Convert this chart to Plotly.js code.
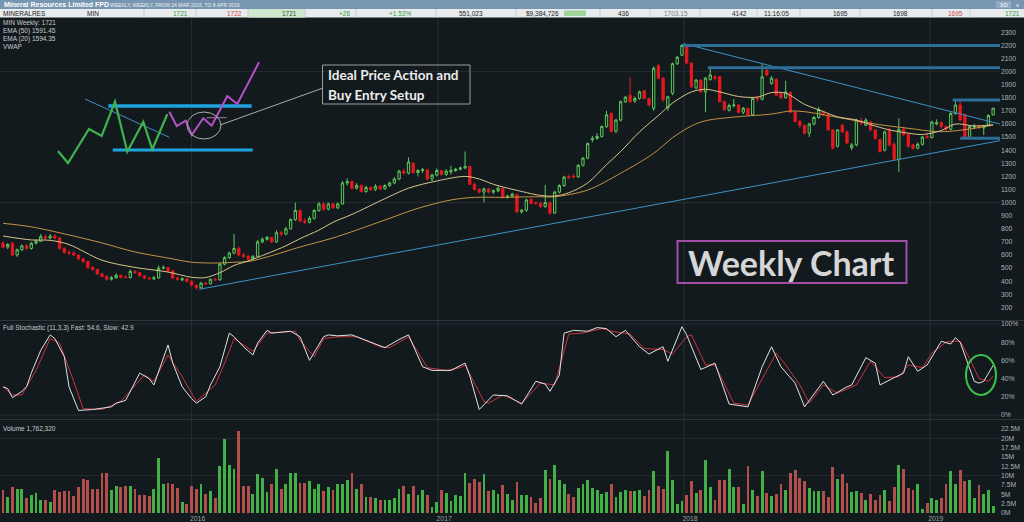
<!DOCTYPE html>
<html>
<head>
<meta charset="utf-8">
<script src="https://cdn.plot.ly/plotly-3.0.1.min.js"></script>
<style>
html,body{margin:0;padding:0;background:#131a1e;}
#chart{width:1024px;height:522px;}
</style>
</head>
<body>
<div id="chart"></div>
<script>
// ---------------- DATA (weekly, from 27 Mar 2015) ----------------
const weekStart = [2015, 2, 27];

const open = [
690,660,690,600,640,670,650,690,705,740,
730,745,730,650,620,615,600,570,550,505,
490,455,435,415,425,445,432,428,475,465,
440,425,418,425,500,505,480,425,410,418,
400,370,350,385,380,415,410,530,580,615,
650,600,590,570,590,700,720,735,700,770,
760,800,870,940,860,850,880,940,990,950,
990,960,990,1150,1160,1110,1130,1085,1115,1100,
1125,1105,1130,1150,1180,1240,1225,1300,1230,1245,
1250,1180,1210,1245,1215,1235,1245,1255,1265,1275,
1140,1100,1080,1105,1080,1090,1110,1040,1048,1060,
930,942,1025,1000,995,970,1000,920,1080,1130,
1200,1200,1195,1285,1340,1480,1490,1505,1580,1680,
1545,1630,1770,1820,1775,1795,1855,1795,1720,2045,
1950,1725,1835,2060,2125,2200,2065,1875,1935,1845,
1940,1960,1960,1770,1705,1740,1745,1690,1720,1670,
1800,1790,2010,1910,1940,1835,1800,1840,1690,1620,
1590,1530,1600,1650,1690,1670,1555,1430,1590,1540,
1420,1440,1625,1590,1615,1555,1480,1400,1555,1445,
1330,1560,1520,1440,1415,1445,1505,1495,1600,1610,
1580,1560,1680,1745,1670,1495,1575,1585,1570,1590,1670];

const high = [
705,690,700,650,680,685,700,720,760,755,
760,760,740,660,640,630,605,580,560,515,
495,465,445,440,460,450,445,490,485,470,
445,432,440,520,520,510,485,435,430,425,
405,375,395,395,420,425,545,590,625,760,
665,615,600,600,715,735,745,740,790,785,
815,880,1000,950,880,895,950,1005,1000,1000,
1000,1000,1165,1185,1170,1150,1140,1130,1125,1140,
1135,1140,1160,1195,1250,1260,1345,1310,1255,1265,
1255,1220,1260,1250,1255,1280,1265,1275,1390,1285,
1150,1110,1115,1110,1100,1125,1120,1060,1075,1070,
950,1030,1035,1010,1000,1135,1010,1090,1140,1205,
1215,1220,1295,1345,1460,1510,1530,1590,1700,1690,
1640,1780,1815,1960,1810,1855,1860,1800,2040,2060,
1955,1815,2070,2120,2210,2210,2070,1945,1940,1960,
2035,1975,1965,1780,1755,1790,1750,1730,1725,1800,
1815,2060,2025,1965,1950,1845,1930,1850,1700,1630,
1595,1610,1660,1730,1700,1680,1560,1560,1600,1550,
1455,1640,1650,1645,1625,1560,1490,1550,1570,1460,
1645,1580,1530,1450,1460,1510,1530,1625,1635,1620,
1590,1690,1775,1785,1680,1590,1600,1595,1590,1675,1722];

const low = [
650,645,595,585,630,640,640,680,700,715,
720,720,640,610,600,595,560,540,495,480,
450,430,405,405,420,420,420,420,455,435,
415,410,410,420,490,470,415,405,400,390,
360,335,345,370,375,400,405,520,570,605,
590,575,560,560,585,690,710,690,695,745,
750,795,860,850,835,840,870,930,935,940,
950,950,985,1130,1100,1100,1075,1075,1090,1090,
1095,1100,1120,1140,1170,1215,1215,1220,1200,1225,
1170,1165,1200,1205,1205,1215,1235,1245,1255,1135,
1095,1070,1000,1070,1065,1080,1030,1030,1040,920,
915,930,985,985,960,960,905,915,1070,1120,
1180,1185,1190,1275,1330,1460,1480,1495,1570,1535,
1530,1620,1760,1760,1760,1785,1790,1735,1700,1940,
1770,1700,1820,2050,2120,2055,1875,1865,1840,1690,
1930,1930,1765,1700,1695,1725,1680,1675,1660,1660,
1770,1780,1965,1900,1815,1790,1795,1685,1610,1570,
1520,1500,1590,1640,1660,1550,1405,1420,1530,1445,
1400,1430,1590,1585,1545,1480,1380,1390,1430,1320,
1235,1505,1420,1405,1405,1435,1490,1490,1590,1565,
1545,1550,1670,1620,1480,1485,1560,1560,1515,1585,1665];

const close = [
660,680,600,640,670,650,690,705,740,730,
745,730,650,620,615,600,570,550,505,490,
455,435,415,425,445,430,428,475,465,440,
425,420,425,500,505,480,425,415,418,400,
370,350,385,380,415,410,530,580,615,650,
600,590,570,590,700,720,735,700,770,760,
800,870,940,860,850,880,940,990,950,990,
960,990,1150,1160,1110,1130,1085,1115,1100,1125,
1105,1130,1150,1180,1240,1225,1310,1230,1245,1250,
1180,1210,1245,1215,1240,1245,1255,1265,1275,1140,
1100,1080,1105,1080,1090,1110,1040,1048,1065,930,
942,1020,995,993,970,1000,920,1080,1130,1195,
1192,1195,1285,1340,1450,1490,1505,1580,1670,1545,
1630,1770,1805,1770,1795,1845,1795,1745,2025,1950,
1785,1808,2060,2110,2200,2065,1885,1935,1845,1950,
1975,1948,1770,1710,1740,1745,1690,1720,1670,1795,
1790,1960,1975,1950,1820,1800,1845,1690,1620,1590,
1530,1600,1650,1710,1670,1555,1415,1555,1540,1455,
1440,1630,1605,1630,1555,1490,1390,1540,1440,1330,
1560,1520,1430,1415,1445,1500,1495,1615,1610,1580,
1560,1680,1745,1630,1495,1580,1582,1575,1580,1665,1721];

// volume in millions of shares
const volume = [
6.1,4.3,7.0,6.5,6.5,3.9,4.7,5.4,3.4,3.6,
2.9,6.1,5.6,5.8,5.8,4.6,7.0,9.2,8.8,6.5,
6.3,10.7,10.7,6.2,7.2,7.0,7.2,7.2,6.5,4.9,
4.7,4.6,6.5,14.8,7.7,8.1,7.9,6.8,2.9,2.3,
7.3,6.5,7.7,5.2,5.8,4.1,12.6,19.9,12.8,11.9,
21.9,7.2,7.3,5.2,10.4,9.5,5.5,7.9,11.9,6.5,
7.7,10.8,10.8,8.0,8.0,8.6,6.5,7.9,5.8,7.0,
6.2,7.7,7.7,8.8,10.8,6.5,7.9,4.3,4.3,4.1,
3.6,3.6,3.6,4.0,6.3,7.2,5.2,7.2,4.9,6.1,
4.7,1.5,2.9,6.2,5.4,3.2,4.9,4.5,10.8,8.0,
9.2,8.3,10.5,5.8,6.2,5.2,7.4,5.2,3.6,8.3,
4.7,4.9,4.3,2.8,4.0,11.4,9.0,12.8,8.8,7.7,
5.2,4.3,6.8,7.9,8.9,6.8,6.1,5.2,5.6,7.7,
4.3,5.5,6.2,5.8,5.8,6.1,4.5,6.2,11.3,7.2,
6.5,16.5,8.8,2.5,3.1,4.7,8.5,5.4,6.1,14.3,
7.0,3.6,8.9,8.9,11.9,7.0,7.0,2.3,12.5,6.2,
4.5,11.3,5.4,4.5,5.2,7.9,6.2,10.7,11.6,9.4,
8.6,6.8,5.8,5.8,5.8,4.3,12.2,9.0,10.4,8.0,
5.6,5.8,5.4,3.6,5.2,3.6,4.9,6.2,3.2,7.0,
12.8,11.9,6.7,6.1,7.9,1.2,2.6,4.1,3.6,4.1,
7.9,11.3,7.9,11.6,8.5,8.8,3.9,7.4,5.2,6.1,1.76];

// Full stochastic (11,3,3): fast %K and slow %D, read at their turning weeks
const kWeek = [0,1,2,4,5,6,8,10,11,13,14,16,19,23,24,26,29,31,32,35,36,38,40,41,43,44,46,48,49,51,53,54,56,57,61,63,65,68,69,71,74,79,81,84,86,89,91,95,98,99,101,104,107,110,113,115,116,118,119,121,124,126,128,130,132,135,137,140,141,144,145,148,151,154,158,161,163,165,168,170,174,176,179,180,183,185,186,189,191,192,194,196,199,201,202,203,205,206,207,208,210];
const kValue = [31,29,19,26,31,46,71,88,84,64,31,5,6,9,13,16,46,40,33,77,57,31,18,13,20,33,53,90,86,75,66,79,93,90,92,86,60,86,88,87,88,78,74,83,88,53,49,49,57,43,6,22,21,12,37,34,26,44,90,93,92,96,95,86,93,75,67,75,59,97,88,50,57,12,9,53,75,53,35,9,37,22,31,33,63,57,33,41,46,64,48,55,81,78,85,80,52,37,35,37,54.6];
const dWeek = [0,2,4,7,10,12,15,17,21,25,30,32,35,38,41,45,47,49,53,56,62,63,66,68,71,75,80,82,86,90,94,97,98,102,103,106,110,114,117,120,123,127,129,133,136,140,142,145,146,149,151,155,158,162,164,166,169,171,174,177,181,184,187,190,192,195,197,200,201,203,205,207,209,210];
const dValue = [31,22,22,49,84,79,37,7,6,15,44,37,66,42,15,33,57,84,70,90,92,82,64,84,86,86,75,74,86,52,49,52,55,15,13,22,13,35,33,89,90,95,92,89,73,72,67,86,88,55,55,13,11,48,68,55,33,13,33,24,33,59,41,42,55,52,68,80,81,81,62,40,37,42.9];

// EMA lines
const ema20Week = [0,6,10,14,21,28,35,40,43,46,49,52,56,60,63,67,70,74,81,86,92,98,101,104,110,114,117,120,124,128,131,135,139,142,146,149,152,156,160,163,166,170,174,177,181,184,188,192,195,199,202,206,210];
const ema20 = [745,715,712,680,560,505,470,430,428,465,520,555,610,670,725,790,850,910,1030,1110,1165,1200,1180,1140,1085,1055,1050,1075,1150,1290,1390,1540,1665,1760,1845,1865,1845,1810,1805,1840,1835,1750,1695,1655,1630,1595,1555,1530,1520,1550,1600,1585,1594.35];
const ema50Week = [0,6,14,21,28,35,40,46,49,52,56,63,67,70,74,81,88,95,100,106,113,117,124,131,138,142,146,149,156,163,167,170,177,184,192,199,206,210];
const ema50 = [842,815,753,692,623,577,545,539,545,550,585,661,700,730,778,867,956,1020,1040,1040,1045,1045,1096,1224,1376,1495,1585,1625,1656,1676,1699,1694,1651,1605,1567,1541,1567,1591.45];

// Drawn trend lines: [startWeek, startPrice, endWeek, endPrice]
const upTrend = [41.6, 338, 212.2, 1478];
const downTrend = [144.3, 2214, 211.6, 1598];
// Horizontal resistance/support levels: [fromWeek, price]
const levels = [[144.2, 2200], [149.5, 2030], [201.4, 1783], [203.0, 1491]];

const yearTicks = ['2016-01-01','2017-01-01','2018-01-01','2019-01-01'];
const yearLabels = ['2016','2017','2018','2019'];
const priceTicks = [200,300,400,500,600,700,800,900,1000,1100,1200,1300,1400,1500,1600,1700,1800,1900,2000,2100,2200,2300];
const stochTicks = [0,20,40,60,80,100];
const volTicks = [0,2.5,5,7.5,10,12.5,15,17.5,20,22.5];

// ---------------- LAYOUT GEOMETRY ----------------
const W = 1024, H = 522, ML = 0, MR = 24, MT = 18, MB = 9;
const PW = W - ML - MR, PH = H - MT - MB;
const PX = x => (x - ML) / PW;
const PY = y => (MT + PH - y) / PH;
const BG = '#131a1e';

const T0 = Date.UTC(weekStart[0], weekStart[1], weekStart[2]);
const WEEK = 7 * 864e5;
const dateAt = i => new Date(T0 + i * WEEK).toISOString().replace('T', ' ').replace('Z', '');
const dates = close.map((_, i) => dateAt(i));

const GREEN = '#5cc85c', RED = '#e3191e';
const volColors = close.map((c, i) => c >= open[i] ? '#43b047' : '#b24f4c');

const traces = [
  {type:'candlestick', x:dates, open:open, high:high, low:low, close:close,
   xaxis:'x', yaxis:'y', whiskerwidth:0, hoverinfo:'skip',
   increasing:{line:{color:GREEN, width:1}, fillcolor:BG},
   decreasing:{line:{color:RED, width:1}, fillcolor:RED}},
  {type:'scatter', mode:'lines', x:ema50Week.map(dateAt), y:ema50, yaxis:'y',
   line:{color:'#c39444', width:1, shape:'spline', smoothing:0.9}, hoverinfo:'skip'},
  {type:'scatter', mode:'lines', x:ema20Week.map(dateAt), y:ema20, yaxis:'y',
   line:{color:'#d9c58c', width:1, shape:'spline', smoothing:0.9}, hoverinfo:'skip'},
  {type:'scatter', mode:'lines', x:dWeek.map(dateAt), y:dValue, yaxis:'y2',
   line:{color:'#c9343e', width:1}, hoverinfo:'skip'},
  {type:'scatter', mode:'lines', x:kWeek.map(dateAt), y:kValue, yaxis:'y2',
   line:{color:'#e2e2e2', width:1}, hoverinfo:'skip'},
  {type:'bar', x:dates, y:volume, yaxis:'y3', width:WEEK*0.6,
   marker:{color:volColors, line:{width:0}}, hoverinfo:'skip'}
];

// ---------------- SHAPES ----------------
const shapes = [];
const hline = (y, yref, color, w) => shapes.push({type:'line', xref:'paper', yref:yref, x0:0, x1:1, y0:y, y1:y, layer:'below', line:{color:color, width:w||1}});
// price grid
hline(1000, 'y', '#242d32'); hline(2000, 'y', '#242d32');
// stochastic grid
hline(0, 'y2', '#242d32'); hline(100, 'y2', '#242d32');
// volume grid
hline(10, 'y3', '#242d32'); hline(20, 'y3', '#242d32');
// year grid lines
yearTicks.forEach(d => shapes.push({type:'line', xref:'x', yref:'paper', x0:d, x1:d, y0:0, y1:1, layer:'below', line:{color:'#263035', width:1}}));
// panel separators
[320.5, 419.5].forEach(p => shapes.push({type:'line', xref:'paper', yref:'paper', x0:0, x1:PX(1024), y0:PY(p), y1:PY(p), line:{color:'#2c363b', width:1}}));

// trend lines
shapes.push({type:'line', xref:'x', yref:'y', x0:dateAt(upTrend[0]), y0:upTrend[1], x1:dateAt(upTrend[2]), y1:upTrend[3], line:{color:'#3d92c4', width:1}});
shapes.push({type:'line', xref:'x', yref:'y', x0:dateAt(downTrend[0]), y0:downTrend[1], x1:dateAt(downTrend[2]), y1:downTrend[3], line:{color:'#3d92c4', width:1}});
levels.forEach(l => shapes.push({type:'line', xref:'x', yref:'y', x0:dateAt(l[0]), x1:dateAt(213), y0:l[1], y1:l[1], line:{color:'#2d6e98', width:3}}));

// illustration sketch (pixel space)
const pathFrom = pts => pts.map((p, i) => (i ? 'L' : 'M') + PX(p[0]).toFixed(5) + ',' + PY(p[1]).toFixed(5)).join(' ');
const sketchGreen = [[58,151],[68,163],[89,129],[101.7,136],[115,101.7],[127.3,151.7],[143.3,121.7],[152.3,149.3],[167.3,114.3]];
const sketchPurple = [[169.3,111.7],[176.7,126],[185.7,120.7],[191.7,135],[203.3,118.3],[211.7,125.7],[227.3,96],[237.3,104],[259,62.3]];
shapes.push({type:'line', xref:'paper', yref:'paper', x0:PX(85), y0:PY(99), x1:PX(169.3), y1:PY(137.3), line:{color:'#3d8fc0', width:1}});
shapes.push({type:'line', xref:'paper', yref:'paper', x0:PX(108.3), y0:PY(106), x1:PX(251.7), y1:PY(106), line:{color:'#1ea3e2', width:3.5}});
shapes.push({type:'line', xref:'paper', yref:'paper', x0:PX(112.7), y0:PY(150), x1:PX(252.7), y1:PY(150), line:{color:'#1ea3e2', width:3}});
shapes.push({type:'path', xref:'paper', yref:'paper', path:pathFrom(sketchGreen), line:{color:'#3fb24e', width:2.2}});
shapes.push({type:'path', xref:'paper', yref:'paper', path:pathFrom(sketchPurple), line:{color:'#b64fca', width:2}});
shapes.push({type:'line', xref:'paper', yref:'paper', x0:PX(206.7), y0:PY(117.7), x1:PX(226.7), y1:PY(117.7), line:{color:'#b070b8', width:1}});
shapes.push({type:'circle', xref:'paper', yref:'paper', x0:PX(187), x1:PX(221), y0:PY(139), y1:PY(112), line:{color:'#a9a9a9', width:1}});
shapes.push({type:'line', xref:'paper', yref:'paper', x0:PX(220), y0:PY(125), x1:PX(323), y1:PY(88), line:{color:'#a9a9a9', width:1}});
// note boxes
shapes.push({type:'rect', xref:'paper', yref:'paper', x0:PX(322.5), x1:PX(470), y0:PY(104), y1:PY(65), line:{color:'#9a9c9e', width:1}});
shapes.push({type:'rect', xref:'paper', yref:'paper', x0:PX(677.5), x1:PX(906.5), y0:PY(283), y1:PY(241), line:{color:'#a24ea9', width:2}});
// green circle on stochastic
shapes.push({type:'circle', xref:'paper', yref:'paper', x0:PX(966), x1:PX(996), y0:PY(395), y1:PY(355), line:{color:'#3cc24b', width:2}});

// header bars
shapes.push({type:'rect', xref:'paper', yref:'paper', x0:PX(0), x1:PX(1024), y0:PY(9), y1:PY(0), fillcolor:'#7896b1', line:{width:0}});
shapes.push({type:'rect', xref:'paper', yref:'paper', x0:PX(0), x1:PX(1024), y0:PY(17.5), y1:PY(9), fillcolor:'#e7ebed', line:{width:0}});
shapes.push({type:'rect', xref:'paper', yref:'paper', x0:PX(248), x1:PX(305), y0:PY(17.5), y1:PY(9), fillcolor:'#cfe7cd', line:{width:0}});
shapes.push({type:'rect', xref:'paper', yref:'paper', x0:PX(564), x1:PX(586), y0:PY(16), y1:PY(10.5), fillcolor:'#9fd49a', line:{width:0}});
shapes.push({type:'rect', xref:'paper', yref:'paper', x0:PX(996), x1:PX(1011), y0:PY(8), y1:PY(1), fillcolor:'#90aac0', line:{width:0}});
[144,196,248,305,356,436,516,600,650,700,757,800,860,932,970].forEach(x =>
  shapes.push({type:'line', xref:'paper', yref:'paper', x0:PX(x), x1:PX(x), y0:PY(17.5), y1:PY(9), line:{color:'#c4ccd1', width:1}}));

// ---------------- ANNOTATIONS ----------------
const annotations = [];
const note = (x, y, text, opt) => annotations.push(Object.assign({
  xref:'paper', yref:'paper', x:PX(x), y:PY(y), text:text, showarrow:false,
  xanchor:'left', yanchor:'middle',
  font:{family:'Liberation Sans, Arial, sans-serif', size:6.5, color:'#c6cacc'}}, opt || {}));

note(1, 23.3, 'MIN Weekly: 1721');
note(1, 31, 'EMA (50) 1591.45');
note(1, 38.7, 'EMA (20) 1594.35');
note(1, 46.3, 'VWAP');
note(1, 328.5, 'Full Stochastic (11,3,3) Fast: 54.6, Slow: 42.9');
note(1, 428.3, 'Volume 1,762,320');

note(326, 75, '<b>Ideal Price Action and</b>', {font:{family:'Lato, sans-serif', size:13.5, color:'#ececec'}});
note(326, 94.5, '<b>Buy Entry Setup</b>', {font:{family:'Lato, sans-serif', size:13.5, color:'#ececec'}});
note(791, 262, '<b>Weekly Chart</b>', {xanchor:'center', font:{family:'Lato, sans-serif', size:34, color:'#d6d6d6'}});

// header texts
const hf = (c, s) => ({family:'Liberation Sans, Arial, sans-serif', size:s || 6.5, color:c});
note(1.5, 4.6, '<b>Mineral Resources Limited FPD</b>', {font:hf('#ffffff', 7)});
note(108, 4.8, 'WEEKLY, WEEKLY, FROM 24 MAR 2015, TO 8 APR 2019', {font:hf('#eef2f6', 5)});
note(998, 4.6, 'XD', {font:hf('#ffffff', 5.5)});
note(1014, 4.6, 'x', {font:hf('#ffffff', 6)});
const row = 13.3;
note(1, row, 'MINERALRES', {font:hf('#222')});
note(85, row, 'MIN', {font:hf('#222')});
note(190, row, '1721', {xanchor:'right', font:hf('#3a9a3a')});
note(244, row, '1722', {xanchor:'right', font:hf('#d04848')});
note(299, row, '1721', {xanchor:'right', font:hf('#2a5a2a')});
note(352, row, '+26', {xanchor:'right', font:hf('#3a9a3a')});
note(413, row, '+1.53%', {xanchor:'right', font:hf('#3a9a3a')});
note(485, row, '551,023', {xanchor:'right', font:hf('#222')});
note(561, row, '$9,384,726', {xanchor:'right', font:hf('#222')});
note(631, row, '436', {xanchor:'right', font:hf('#222')});
note(690, row, '1703.15', {xanchor:'right', font:hf('#7a7f82')});
note(749, row, '4142', {xanchor:'right', font:hf('#222')});
note(762, row, '11:16:05', {font:hf('#222')});
note(850, row, '1695', {xanchor:'right', font:hf('#222')});
note(910, row, '1698', {xanchor:'right', font:hf('#222')});
note(965, row, '1695', {xanchor:'right', font:hf('#d04848')});
note(1022, row, '1721', {xanchor:'right', font:hf('#3a9a3a')});

// ---------------- AXES ----------------
const priceAt = y => 2300 - (y - 32.3) / 0.131;
const stochAt = y => (415 - y) / 0.91;
const volAt = y => (513 - y) / 3.733;

const tickFont = {family:'Liberation Sans, Arial, sans-serif', size:6.8, color:'#a9b1b5'};
const baseY = {side:'right', showgrid:false, zeroline:false, showline:false, ticks:'', tickfont:tickFont, fixedrange:true};

const layout = {
  width:W, height:H, margin:{l:ML, r:MR, t:MT, b:MB, pad:0},
  paper_bgcolor:BG, plot_bgcolor:BG, showlegend:false,
  font:{family:'Liberation Sans, Arial, sans-serif'},
  xaxis:{type:'date', anchor:'y3', domain:[0,1],
    range:[dateAt(-3/4.715), dateAt(997/4.715)],
    tickvals:yearTicks, ticktext:yearLabels, tickfont:{family:'Liberation Sans, Arial, sans-serif', size:6.8, color:'#98a2a6'},
    ticklabelshift:6, ticks:'', showgrid:false, zeroline:false, showline:false,
    rangeslider:{visible:false}, fixedrange:true},
  yaxis:Object.assign({}, baseY, {domain:[PY(320), PY(18)], range:[priceAt(320), priceAt(18)], tickvals:priceTicks, anchor:'x'}),
  yaxis2:Object.assign({}, baseY, {domain:[PY(419), PY(320)], range:[stochAt(419), stochAt(320)], tickvals:stochTicks, ticktext:stochTicks.map(v => v + '%'), anchor:'x'}),
  yaxis3:Object.assign({}, baseY, {domain:[0, PY(420)], range:[volAt(513), volAt(420)], tickvals:volTicks, ticktext:volTicks.map(v => v + 'M'), anchor:'x'}),
  bargap:0,
  shapes:shapes,
  annotations:annotations
};

Plotly.newPlot('chart', traces, layout, {staticPlot:true, displayModeBar:false});
</script>
</body>
</html>
